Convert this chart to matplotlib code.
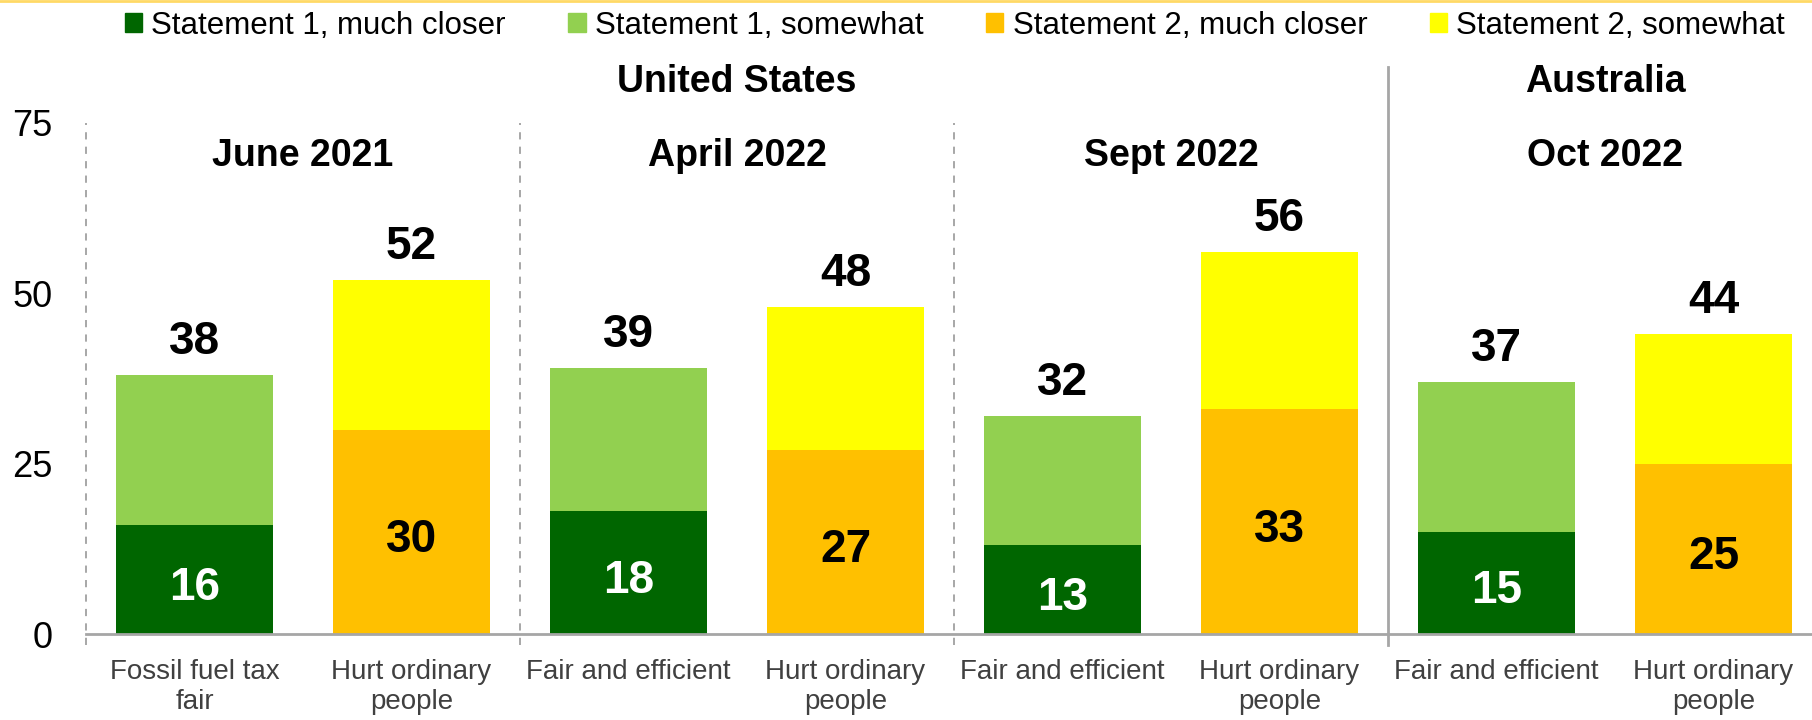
import matplotlib.pyplot as plt
from matplotlib.patches import Patch
from matplotlib.lines import Line2D

plt.rcParams['font.family'] = ['Liberation Sans', 'DejaVu Sans']

labels = ['Fossil fuel tax\nfair', 'Hurt ordinary\npeople',
          'Fair and efficient', 'Hurt ordinary\npeople',
          'Fair and efficient', 'Hurt ordinary\npeople',
          'Fair and efficient', 'Hurt ordinary\npeople']
statement = [1, 2, 1, 2, 1, 2, 1, 2]
much_closer = [16, 30, 18, 27, 13, 33, 15, 25]
somewhat = [22, 22, 21, 21, 19, 23, 22, 19]
dates = ['June 2021', 'April 2022', 'Sept 2022', 'Oct 2022']
countries = ['United States', 'Australia']

colors = {1: ('#006600', '#92D050'), 2: ('#FFC000', '#FFFF00')}
inner_text = {1: 'white', 2: 'black'}

fig = plt.figure(figsize=(18.12, 7.2), dpi=100)
ax = fig.add_axes([86 / 1812, 1 - 634 / 720, 1736 / 1812, 511 / 720])

x = list(range(len(labels)))
w = 0.72
for i in x:
    c_much, c_some = colors[statement[i]]
    ax.bar(i, much_closer[i], w, color=c_much)
    ax.bar(i, somewhat[i], w, bottom=much_closer[i], color=c_some)
    total = much_closer[i] + somewhat[i]
    ax.annotate(str(much_closer[i]), (i, much_closer[i] / 2), xytext=(0, -6),
                textcoords='offset points', ha='center', va='center',
                fontsize=33, fontweight='bold', color=inner_text[statement[i]])
    ax.annotate(str(total), (i, total), xytext=(0, 8), textcoords='offset points',
                ha='center', va='bottom', fontsize=33, fontweight='bold')

ax.set_xlim(-0.5, 7.5)
ax.set_ylim(0, 75)
ax.set_yticks([0, 25, 50, 75])
ax.set_xticks(x)
ax.set_xticklabels(labels, fontsize=20, color='#404040', linespacing=1.2)
ax.tick_params(axis='y', length=0, pad=24, labelsize=26)
ax.tick_params(axis='x', length=0, pad=18)

for s in ['top', 'right', 'left']:
    ax.spines[s].set_visible(False)
ax.spines['bottom'].set_color('#A6A6A6')
ax.spines['bottom'].set_linewidth(2)

# separators
for xs in [-0.5, 1.5, 3.5]:
    ax.axvline(xs, ymin=-0.022, ymax=1, color='#A0A0A0', lw=1.3,
               ls=(0, (4, 4)), clip_on=False)
ax.axvline(5.5, ymin=-0.022, ymax=1.11, color='#A6A6A6', lw=2, clip_on=False)

# group headings
tr = ax.get_xaxis_transform()
for k, d in enumerate(dates):
    ax.text(2 * k + 0.5, 0.935, d, transform=tr, ha='center', va='center',
            fontsize=27, fontweight='bold')
ax.text(2.5, 1.08, countries[0], transform=tr, ha='center', va='center',
        fontsize=27, fontweight='bold')
ax.text(6.5, 1.08, countries[1], transform=tr, ha='center', va='center',
        fontsize=27, fontweight='bold')

handles = [Patch(color='#006600', label='Statement 1, much closer'),
           Patch(color='#92D050', label='Statement 1, somewhat'),
           Patch(color='#FFC000', label='Statement 2, much closer'),
           Patch(color='#FFFF00', label='Statement 2, somewhat')]
fig.legend(handles=handles, loc='center', bbox_to_anchor=(0.527, 0.964), ncol=4,
           frameon=False, fontsize=22.5, handlelength=0.55, handleheight=0.55,
           handletextpad=0.3, columnspacing=2.0, borderaxespad=0)

fig.add_artist(Line2D([0, 1], [0.998, 0.998], color='#FFD966', lw=2))

fig.savefig('out.png', dpi=100)
